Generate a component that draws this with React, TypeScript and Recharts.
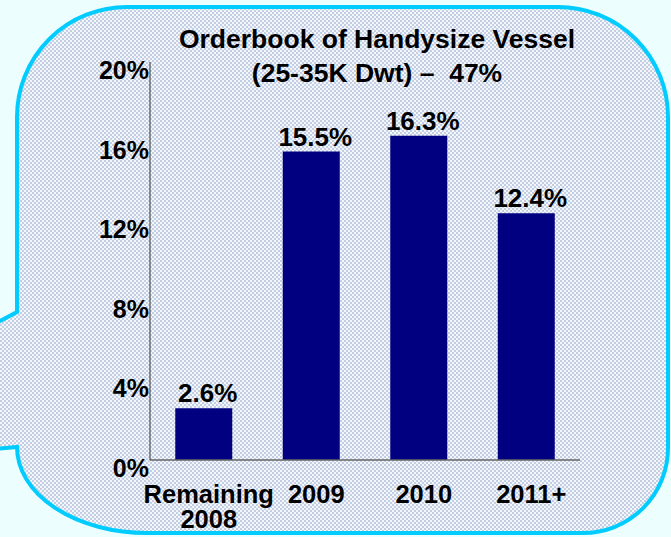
import { BarChart, Bar, XAxis, YAxis, LabelList } from 'recharts';

const categories = ['Remaining\n2008', '2009', '2010', '2011+'];
const shares = [2.6, 15.5, 16.3, 12.4];
const yTicks = [0, 4, 8, 12, 16, 20];
const titleLines = ['Orderbook of Handysize Vessel', '(25-35K Dwt) \u2013  47%'];

const data = categories.map((name, i) => ({ name, value: shares[i] }));

const FONT = '"Liberation Sans", Arial, sans-serif';
const NAVY = '#000080';
const CYAN = '#00ccff';

const YTick = (props: any) => {
    const { x, y, payload } = props;
    return (
        <text x={x + 7} y={y + 8} textAnchor="end" dominantBaseline="central"
            style={{ fontFamily: FONT, fontWeight: 'bold', fontSize: 25, fill: '#000' }}>
            {payload.value}%
        </text>
    );
};

const XTick = (props: any) => {
    const { x, y, payload } = props;
    const lines = String(payload.value).split('\n');
    return (
        <g>
            {lines.map((line, i) => (
                <text key={i} x={x + 5} y={y + 26 + i * 25} textAnchor="middle" dominantBaseline="central"
                    style={{ fontFamily: FONT, fontWeight: 'bold', fontSize: 25.5, fill: '#000' }}>
                    {line}
                </text>
            ))}
        </g>
    );
};

const ValueLabel = (props: any) => {
    const { x, y, width, value } = props;
    return (
        <text x={x + width / 2 + 4} y={y - 15} textAnchor="middle" dominantBaseline="central"
            style={{ fontFamily: FONT, fontWeight: 'bold', fontSize: 26, fill: '#000' }}>
            {value}%
        </text>
    );
};

export default function App() {
    // bubble outline with the tail going off to the left
    const bubble =
        'M 17 312 L 17 117 A 110 110 0 0 1 127 7 L 558 7 A 110 110 0 0 1 668 117 ' +
        'L 668 448 A 85 85 0 0 1 583 533 L 147 533 A 130 86 0 0 1 17 447 ' +
        'L -40 452 L -40 342 Z';

    return (
        <div style={{ position: 'absolute', left: 0, top: 0, width: 671, height: 537, background: '#ecfefe' }}>
            <svg width={671} height={537} style={{ position: 'absolute', left: 0, top: 0 }}>
                <defs>
                    <pattern id="dots" width={4} height={4} patternUnits="userSpaceOnUse">
                        <rect width={4} height={4} fill="#f3f6fb" />
                        <rect x={0} y={0} width={2} height={2} fill="#c4cee2" />
                        <rect x={2} y={2} width={2} height={2} fill="#c4cee2" />
                    </pattern>
                </defs>
                <path d={bubble} fill="url(#dots)" stroke={CYAN} strokeWidth={4} />
                {titleLines.map((t, i) => (
                    <text key={i} x={377} y={39 + i * 34} textAnchor="middle" dominantBaseline="central"
                        style={{ fontFamily: FONT, fontWeight: 'bold', fontSize: 26.5, fill: '#000', whiteSpace: 'pre' }}>
                        {t}
                    </text>
                ))}
            </svg>
            <div style={{ position: 'absolute', left: 0, top: 0 }}>
                <BarChart width={671} height={537} data={data}
                    margin={{ top: 62, right: 91, bottom: 0, left: 0 }} barCategoryGap="23.5%">
                    <XAxis dataKey="name" height={77} tickLine={false} interval={0}
                        axisLine={{ stroke: '#666', strokeWidth: 1.5 }} tick={<XTick />} />
                    <YAxis width={150} domain={[0, 20]} ticks={yTicks} tickLine={false} interval={0}
                        axisLine={{ stroke: '#333', strokeWidth: 1 }} tick={<YTick />} />
                    <Bar dataKey="value" fill={NAVY} isAnimationActive={false}>
                        <LabelList dataKey="value" content={<ValueLabel />} />
                    </Bar>
                </BarChart>
            </div>
        </div>
    );
}
